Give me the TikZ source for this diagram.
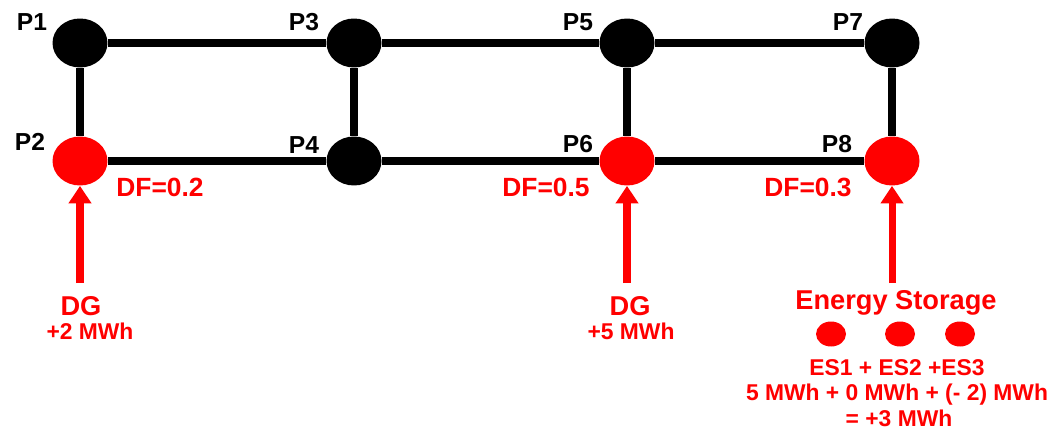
\documentclass[tikz,border=0pt]{standalone}
\usepackage{fontspec}
\setmainfont{Liberation Sans}
\usetikzlibrary{shapes.geometric,arrows.meta,positioning}

\begin{document}
\begin{tikzpicture}[x=0.02cm,y=-0.02cm,
  every node/.style={inner sep=0pt},
  bus/.style={ellipse,fill=black,minimum width=1.1cm,minimum height=0.98cm},
  loadbus/.style={bus,fill=red},
  buslabel/.style={font=\bfseries\fontsize{14}{16}\selectfont},
  dflabel/.style={text=red,font=\bfseries\fontsize{15}{17}\selectfont},
  srclabel/.style={text=red,font=\bfseries\fontsize{15.5}{18}\selectfont},
  mwhlabel/.style={text=red,font=\bfseries\fontsize{13}{15}\selectfont},
  esdot/.style={ellipse,fill=red,minimum width=0.6cm,minimum height=0.5cm},
  link/.style={line width=4.4pt},
  feed/.style={red,line width=4pt,-{Triangle[width=12.5pt,length=10pt]}}]
\useasboundingbox (0,0) rectangle (1053,432);
% buses
\node[bus]     (P1) at (80,43)  {};
\node[loadbus] (P2) at (80,161) {};
\node[bus]     (P3) at (354,43) {};
\node[bus]     (P4) at (354,161) {};
\node[bus]     (P5) at (627,43) {};
\node[loadbus] (P6) at (627,161) {};
\node[bus]     (P7) at (892,43) {};
\node[loadbus] (P8) at (892,161) {};
% lines
\draw[link] (P1) -- (P3);
\draw[link] (P3) -- (P5);
\draw[link] (P5) -- (P7);
\draw[link] (P2) -- (P4);
\draw[link] (P4) -- (P6);
\draw[link] (P6) -- (P8);
\draw[link] (P1) -- (P2);
\draw[link] (P3) -- (P4);
\draw[link] (P5) -- (P6);
\draw[link] (P7) -- (P8);
% bus names
\node[buslabel] (l1) at (32,22)   {P1};
\node[buslabel] (l2) at (30,142)  {P2};
\node[buslabel] (l3) at (304,22)  {P3};
\node[buslabel] (l4) at (304,145) {P4};
\node[buslabel] (l5) at (578,22)  {P5};
\node[buslabel] (l6) at (578,144) {P6};
\node[buslabel] (l7) at (848,22)  {P7};
\node[buslabel] (l8) at (837,144) {P8};
% distribution factors
\node[dflabel] (df2) at (160,187) {DF=0.2};
\node[dflabel] (df6) at (546,187) {DF=0.5};
\node[dflabel] (df8) at (808,187) {DF=0.3};
% sources
\coordinate (in2) at (80,283);
\coordinate (in6) at (627,283);
\coordinate (in8) at (892,283);
\draw[feed] (in2) -- (P2);
\draw[feed] (in6) -- (P6);
\draw[feed] (in8) -- (P8);
\node[srclabel] (dg2) at (81,306)  {DG};
\node[mwhlabel] (mw2) at (90,331)  {+2 MWh};
\node[srclabel] (dg6) at (630,306) {DG};
\node[mwhlabel] (mw6) at (631,331) {+5 MWh};
\node[srclabel] (es) at (896,303) {Energy Storage};
\node[esdot] (es1) at (831,334) {};
\node[esdot] (es2) at (900,334) {};
\node[esdot] (es3) at (960,334) {};
\node[mwhlabel] (essum) at (897,368) {ES1 + ES2 +ES3};
\node[mwhlabel] (esval) at (897,395) {5 MWh + 0 MWh + (- 2) MWh};
\node[mwhlabel] (estot) at (899,418) {= +3 MWh};
\end{tikzpicture}
\end{document}
